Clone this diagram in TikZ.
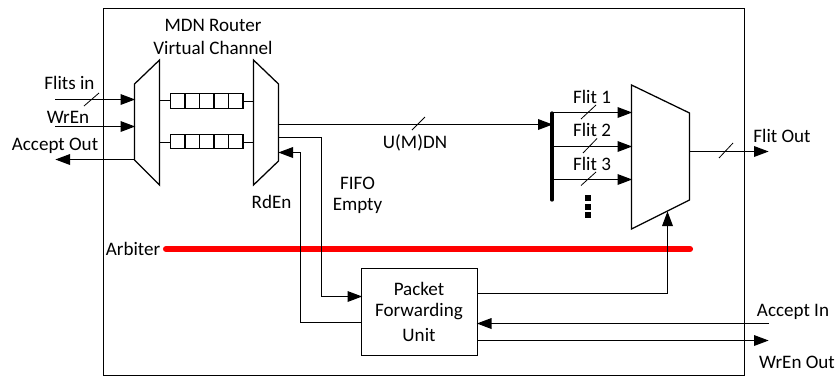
\documentclass[tikz,border=0pt]{standalone}
\usepackage{fontspec}
\setmainfont{Carlito}
\usetikzlibrary{arrows.meta,calc}
\tikzset{
  wire/.style={line width=0.95pt,black},
  arr/.style={wire,-{Triangle[length=11pt,width=8pt]},shorten >=-0.5pt},
  lbl/.style={font=\fontsize{14.3}{16}\selectfont,inner sep=0pt,text=black},
  slash/.style={line width=0.6pt},
  muxs/.style={line width=0.95pt,draw=black,fill=white,line join=miter},
  cell/.style={draw=black,line width=0.95pt,minimum width=10.9pt,minimum height=10.9pt,inner sep=0pt,outer sep=0pt},
}
\begin{document}
\begin{tikzpicture}[x=0.75pt,y=-0.75pt]
\useasboundingbox (0,0) rectangle (838,376);
\node[draw=black,line width=0.95pt,minimum width=480.75pt,minimum height=275.25pt,inner sep=0pt,outer sep=0pt,anchor=north west] (frame) at (103.5,8.5) {};

% left and right multiplexers of the channel
\draw[muxs] (134.5,84) -- (159.5,60) -- (159.5,185) -- (134.5,160) -- cycle;
\draw[muxs] (253.5,60) -- (278.5,84) -- (278.5,161) -- (253.5,185) -- cycle;
% output multiplexer
\draw[muxs] (631.5,85) -- (689.5,113) -- (689.5,200) -- (631.5,229) -- cycle;

\coordinate (muxLa) at (134.5,99.5);
\coordinate (muxLb) at (134.5,126.5);
\coordinate (muxLc) at (134.5,159.5);
\coordinate (muxLq) at (159.5,100.5);
\coordinate (muxLr) at (159.5,142.5);
\coordinate (muxRq) at (253.5,101.5);
\coordinate (muxRr) at (253.5,142.5);
\coordinate (muxRo) at (278.5,124.5);
\coordinate (muxRe) at (278.5,137.5);
\coordinate (muxRd) at (279,152.5);

% FIFOs
\foreach \c [count=\i] in {177.7,192.2,206.7,221.2,235.7}{
  \node[cell] (fa\i) at (\c,101) {};
  \node[cell] (fb\i) at (\c,141.5) {};
}
\draw[wire] (muxLq) -- (fa1.west |- muxLq);
\draw[wire] (fa5.east |- muxRq) -- (muxRq);
\draw[wire] (muxLr) -- (fb1.west |- muxLr);
\draw[wire] (fb5.east |- muxRr) -- (muxRr);

% inputs on the left
\coordinate (fin) at (55,99.5);
\coordinate (wen) at (55,126.5);
\coordinate (aout) at (56,159.5);
\draw[arr] (fin) -- (muxLa);
\draw[arr] (wen) -- (muxLb);
\draw[arr] (muxLc) -- (aout);
\draw[slash] (84,106) -- (99,93);

% bus
\coordinate (busT) at (552,113);
\coordinate (busB) at (552,200);
\coordinate (busI) at (552,124.5);
\draw[line width=2.4pt,line cap=round] (busT) -- (busB);
\draw[arr] (muxRo) -- (busI);
\draw[slash] (412,130) -- (425,117);

% flits
\coordinate (b1) at (552,112.5); \coordinate (m1) at (631.5,112.5);
\coordinate (b2) at (552,146.5);   \coordinate (m2) at (631.5,146.5);
\coordinate (b3) at (552,179.5);   \coordinate (m3) at (631.5,179.5);
\draw[arr] (b1) -- (m1);
\draw[arr] (b2) -- (m2);
\draw[arr] (b3) -- (m3);
\draw[slash] (581,119) -- (596,105);
\draw[slash] (583,153) -- (597,138.5);
\draw[slash] (581,185.5) -- (596,172);
\foreach \y in {198,207,215}{
  \fill (585,\y-2.7) rectangle (591,\y+2.7);
}

% output
\coordinate (mo) at (689.5,151.5);
\coordinate (fo) at (768,151.5);
\draw[arr] (mo) -- (fo);
\draw[slash] (719,158) -- (733,143);

% packet forwarding unit
\node[draw=black,line width=0.95pt,fill=white,minimum width=87pt,minimum height=65.25pt,inner sep=0pt,outer sep=0pt,anchor=north west] (pfu) at (361.5,268.5) {};

% select to output mux
\coordinate (msel) at (667.5,212);
\coordinate (pfuS) at (477.5,293.5);
\coordinate (aIn) at (769,323.5);
\coordinate (pfuA) at (477.5,323.5);
\coordinate (pfuW) at (477.5,340.5);
\coordinate (wOut) at (768,340.5);
\coordinate (pfuF) at (361.5,296.5);
\coordinate (pfuR) at (361.5,322.5);

% red arbiter line (under the wires crossing it)
\draw[red,line width=4.6pt,line cap=round] (166,249) -- (690,249);

\draw[arr] (pfuS) -| (msel);
\draw[arr] (aIn) -- (pfuA);
\draw[arr] (pfuW) -- (wOut);
\draw[arr] (muxRe) -| (321.5,296.5) -- (pfuF);
\draw[arr] (pfuR) -| (300.5,152.5) -- (muxRd);

% labels
\node[lbl] (t1) at (213,25) {MDN Router};
\node[lbl] (t2) at (213,48) {Virtual Channel};
\node[lbl] (t3) at (69.5,83) {Flits in};
\node[lbl] (t4) at (68,117) {WrEn};
\node[lbl] (t5) at (55,146) {Accept Out};
\node[lbl] (t6) at (415,143) {U(M)DN};
\node[lbl] (t7) at (357.5,183) {FIFO};
\node[lbl] (t8) at (357.5,206) {Empty};
\node[lbl] (t9) at (271.5,202) {RdEn};
\node[lbl] (t10) at (592,97) {Flit 1};
\node[lbl] (t11) at (592,130) {Flit 2};
\node[lbl] (t12) at (592,164) {Flit 3};
\node[lbl] (t13) at (782,136) {Flit Out};
\node[lbl] (t14) at (133,249) {Arbiter};
\node[lbl] (t15) at (419,289) {Packet};
\node[lbl] (t16) at (419,312) {Forwarding};
\node[lbl] (t17) at (419,335) {Unit};
\node[lbl] (t18) at (793,312) {Accept In};
\node[lbl] (t19) at (797,362) {WrEn Out};
\end{tikzpicture}
\end{document}
